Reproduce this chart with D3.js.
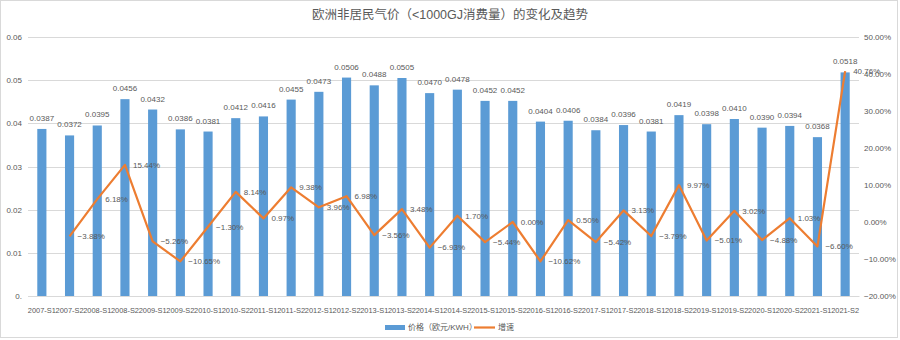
<!DOCTYPE html>
<html><head><meta charset="utf-8">
<script src="https://cdn.jsdelivr.net/npm/d3@7"></script>
<style>body{margin:0;background:#fff}svg{display:block}text{font-family:"Liberation Sans","Noto Sans CJK SC",sans-serif;fill:#595959}</style>
</head><body><svg id="c" width="900" height="340"></svg>
<script>
const categories = ["2007-S1","2007-S2","2008-S1","2008-S2","2009-S1","2009-S2","2010-S1","2010-S2","2011-S1","2011-S2","2012-S1","2012-S2","2013-S1","2013-S2","2014-S1","2014-S2","2015-S1","2015-S2","2016-S1","2016-S2","2017-S1","2017-S2","2018-S1","2018-S2","2019-S1","2019-S2","2020-S1","2020-S2","2021-S1","2021-S2"];
const prices = [0.0387,0.0372,0.0395,0.0456,0.0432,0.0386,0.0381,0.0412,0.0416,0.0455,0.0473,0.0506,0.0488,0.0505,0.0470,0.0478,0.0452,0.0452,0.0404,0.0406,0.0384,0.0396,0.0381,0.0419,0.0398,0.0410,0.0390,0.0394,0.0368,0.0518];
const growth = [null,-3.88,6.18,15.44,-5.26,-10.65,-1.30,8.14,0.97,9.38,3.96,6.98,-3.56,3.48,-6.93,1.70,-5.44,0.00,-10.62,0.50,-5.42,3.13,-3.79,9.97,-5.01,3.02,-4.88,1.03,-6.60,40.76];
const leftTicks = [0,0.01,0.02,0.03,0.04,0.05,0.06];
const rightTicks = [-20,-10,0,10,20,30,40,50];
const title = "欧洲非居民气价（<1000GJ消费量）的变化及趋势";
const seriesNames = ["价格（欧元/KWH）","增速"];

const svg = d3.select("#c");
const L = 28, R = 859, T = 37, B = 296;
const x = d3.scaleBand().domain(categories).range([L, R]).paddingInner(0.67).paddingOuter(0.335);
const yL = d3.scaleLinear().domain([0, 0.06]).range([B, T]);
const yR = d3.scaleLinear().domain([-20, 50]).range([B, T]);
const cx = d => x(d) + x.bandwidth()/2;

svg.append("rect").attr("x",0.5).attr("y",0.5).attr("width",897).attr("height",337).attr("fill","#fff").attr("stroke","#d9d9d9");

svg.append("text").attr("x",450).attr("y",19).attr("text-anchor","middle").attr("font-size",12.5).text(title);

// gridlines
svg.append("g").selectAll("line").data(leftTicks).join("line")
  .attr("x1",L).attr("x2",R).attr("y1",d=>Math.round(yL(d))+0.5).attr("y2",d=>Math.round(yL(d))+0.5)
  .attr("stroke","#d9d9d9").attr("stroke-width",1);

// left axis
const ga = svg.append("g").attr("transform",`translate(${L},0)`)
  .call(d3.axisLeft(yL).tickValues(leftTicks).tickSize(0).tickPadding(6).tickFormat(d=>d===0?"0.":d3.format(".2f")(d)));
ga.select(".domain").remove();
ga.selectAll("text").attr("font-size",8).attr("font-family","Liberation Sans").style("fill","#595959");

// right axis
const gr = svg.append("g").attr("transform",`translate(${R},0)`)
  .call(d3.axisRight(yR).tickValues(rightTicks).tickSize(0).tickPadding(5).tickFormat(d=>d3.format(".2f")(d)+"%"));
gr.select(".domain").remove();
gr.selectAll("text").attr("font-size",8).attr("font-family","Liberation Sans").style("fill","#595959");

// bottom axis
const gb = svg.append("g").attr("transform",`translate(0,${B})`)
  .call(d3.axisBottom(x).tickSize(0).tickPadding(11));
gb.select(".domain").attr("stroke","#d9d9d9");
gb.selectAll("text").attr("font-size",8).attr("font-family","Liberation Sans").style("fill","#595959")
  .attr("textLength",28).attr("lengthAdjust","spacingAndGlyphs");

// bars
svg.append("g").selectAll("rect").data(prices).join("rect")
  .attr("x",(d,i)=>x(categories[i])).attr("width",x.bandwidth())
  .attr("y",d=>yL(d)).attr("height",d=>B-yL(d)).attr("fill","#5B9BD5");
svg.append("g").selectAll("text").data(prices).join("text")
  .attr("x",(d,i)=>cx(categories[i])).attr("y",d=>yL(d)-8).attr("text-anchor","middle")
  .attr("font-size",8).text(d=>d3.format(".4f")(d));

// line
const pts = growth.map((g,i)=>({g, c:categories[i]})).filter(p=>p.g!==null);
svg.append("path").datum(pts)
  .attr("d", d3.line().x(p=>cx(p.c)).y(p=>yR(p.g)))
  .attr("fill","none").attr("stroke","#ED7D31").attr("stroke-width",2.2).attr("stroke-linejoin","round");
svg.append("g").selectAll("text").data(pts).join("text")
  .attr("x",p=>cx(p.c)+8).attr("y",p=>yR(p.g)).attr("dy","0.35em")
  .attr("font-size",8).text(p=>d3.format(".2f")(p.g)+"%");

// legend
const lg = svg.append("g");
lg.append("rect").attr("x",385).attr("y",325).attr("width",20).attr("height",5).attr("fill","#5B9BD5");
lg.append("text").attr("x",408).attr("y",327.5).attr("dy","0.35em").attr("font-size",8).attr("font-family","Noto Sans CJK SC").text(seriesNames[0]);
lg.append("line").attr("x1",474).attr("x2",495).attr("y1",327.5).attr("y2",327.5).attr("stroke","#ED7D31").attr("stroke-width",2.2);
lg.append("text").attr("x",498).attr("y",327.5).attr("dy","0.35em").attr("font-size",8).attr("font-family","Noto Sans CJK SC").text(seriesNames[1]);
</script></body></html>
